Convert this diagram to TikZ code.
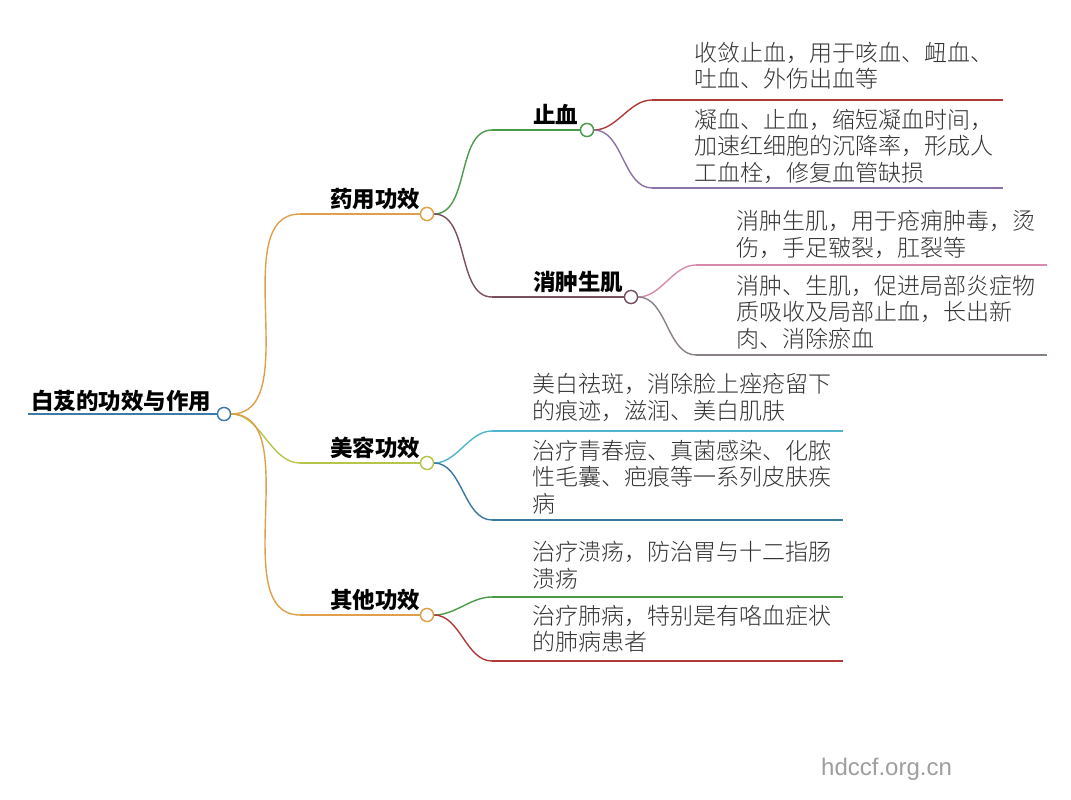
\documentclass[tikz,border=0pt]{standalone}
\usepackage{fontspec}
\newfontfamily\cjk{Noto Sans CJK SC}
\newfontfamily\cjkl{Noto Sans CJK SC Light}
\usetikzlibrary{positioning}
\definecolor{rootc}{HTML}{3D7AA8}
\definecolor{orangec}{HTML}{E0A04A}
\definecolor{limec}{HTML}{B5C44A}
\definecolor{greenc}{HTML}{4A9A48}
\definecolor{plumc}{HTML}{7A5060}
\definecolor{redc}{HTML}{B03A3A}
\definecolor{violetc}{HTML}{8A72A8}
\definecolor{pinkc}{HTML}{D88AAE}
\definecolor{grayc}{HTML}{8A8088}
\definecolor{cyanc}{HTML}{4FB4CC}
\definecolor{bluec}{HTML}{3A78A0}
\tikzset{
  knot/.style={circle,draw=#1,fill=white,line width=1.3pt,minimum size=13pt,inner sep=0pt},
  topic/.style={font=\cjk\bfseries\fontsize{22.5}{24}\selectfont,anchor=base west,inner sep=0pt},
  leaf/.style={font=\cjkl\fontsize{23}{26.5}\selectfont,text=black!80,align=left,anchor=north west,inner sep=0pt},
  edge/.style={line width=1.4pt,#1},
  bend/.style={line width=1.4pt,#1,out=0,in=180,looseness=0.9}
}
\begin{document}
\begin{tikzpicture}[x=1pt,y=-1pt]
	\useasboundingbox (0,0) rectangle (1071,800);
	
	% root and main branches
	\node[knot=rootc] (root) at (224,414) {};
	\coordinate (rootL) at (28,414);
	\node[topic] (tRoot) at (31,409) {白芨的功效与作用};
	
	\node[knot=orangec] (med) at (427,214) {};
	\node[knot=limec] (beauty) at (427,463) {};
	\node[knot=orangec] (other) at (427,615) {};
	\coordinate (medL) at (300,214);
	\coordinate (beautyL) at (300,463);
	\coordinate (otherL) at (300,615);
	\node[topic] (tMed) at (330,207) {药用功效};
	\node[topic] (tBeauty) at (330,456) {美容功效};
	\node[topic] (tOther) at (330,608) {其他功效};
	
	% second level
	\node[knot=greenc] (stop) at (587,130) {};
	\node[knot=plumc] (swell) at (631,297) {};
	\coordinate (stopL) at (492,130);
	\coordinate (swellL) at (492,297);
	\node[topic] (tStop) at (533,123) {止血};
	\node[topic] (tSwell) at (533,290) {消肿生肌};
	
	% leaf ends
	\coordinate (a1) at (652,100);  \coordinate (a1e) at (1003,100);
	\coordinate (a2) at (652,188);  \coordinate (a2e) at (1003,188);
	\coordinate (b1) at (696,265);  \coordinate (b1e) at (1047,265);
	\coordinate (b2) at (696,355);  \coordinate (b2e) at (1047,355);
	\coordinate (c1) at (492,431);  \coordinate (c1e) at (843,431);
	\coordinate (c2) at (492,520);  \coordinate (c2e) at (843,520);
	\coordinate (d1) at (492,597);  \coordinate (d1e) at (843,597);
	\coordinate (d2) at (492,661);  \coordinate (d2e) at (843,661);
	
	\node[leaf] (la1) at (694,42) {收敛止血，用于咳血、衄血、\\吐血、外伤出血等};
	\node[leaf] (la2) at (694,109) {凝血、止血，缩短凝血时间，\\加速红细胞的沉降率，形成人\\工血栓，修复血管缺损};
	\node[leaf] (lb1) at (736,210) {消肿生肌，用于疮痈肿毒，烫\\伤，手足皲裂，肛裂等};
	\node[leaf] (lb2) at (736,275) {消肿、生肌，促进局部炎症物\\质吸收及局部止血，长出新\\肉、消除瘀血};
	\node[leaf] (lc1) at (532,373) {美白祛斑，消除脸上痤疮留下\\的痕迹，滋润、美白肌肤};
	\node[leaf] (lc2) at (532,440) {治疗青春痘、真菌感染、化脓\\性毛囊、疤痕等一系列皮肤疾\\病};
	\node[leaf] (ld1) at (532,541) {治疗溃疡，防治胃与十二指肠\\溃疡};
	\node[leaf] (ld2) at (532,605) {治疗肺病，特别是有咯血症状\\的肺病患者};
	
	\node[font=\fontspec{Liberation Sans}\fontsize{24}{26}\selectfont,text=black!38,anchor=base west,inner sep=0pt] (mark) at (821,775) {hdccf.org.cn};
	
	% connectors
	\draw[edge=rootc] (rootL) -- (root);
	\draw[bend=orangec] (root) to (medL);   \draw[edge=orangec] (medL) -- (med);
	\draw[bend=limec] (root) to (beautyL);  \draw[edge=limec] (beautyL) -- (beauty);
	\draw[bend=orangec] (root) to (otherL); \draw[edge=orangec] (otherL) -- (other);
	
	\draw[bend=greenc] (med) to (stopL);  \draw[edge=greenc] (stopL) -- (stop);
	\draw[bend=plumc] (med) to (swellL);  \draw[edge=plumc] (swellL) -- (swell);
	
	\draw[bend=redc] (stop) to (a1);     \draw[edge=redc] (a1) -- (a1e);
	\draw[bend=violetc] (stop) to (a2);  \draw[edge=violetc] (a2) -- (a2e);
	\draw[bend=pinkc] (swell) to (b1);   \draw[edge=pinkc] (b1) -- (b1e);
	\draw[bend=grayc] (swell) to (b2);   \draw[edge=grayc] (b2) -- (b2e);
	\draw[bend=cyanc] (beauty) to (c1);  \draw[edge=cyanc] (c1) -- (c1e);
	\draw[bend=bluec] (beauty) to (c2);  \draw[edge=bluec] (c2) -- (c2e);
	\draw[bend=greenc] (other) to (d1);  \draw[edge=greenc] (d1) -- (d1e);
	\draw[bend=redc] (other) to (d2);    \draw[edge=redc] (d2) -- (d2e);
	
	% redraw knots on top
	\foreach \k/\c in {root/rootc,med/orangec,beauty/limec,other/orangec,stop/greenc,swell/plumc}
		\node[knot=\c] at (\k) {};
\end{tikzpicture}
\end{document}
